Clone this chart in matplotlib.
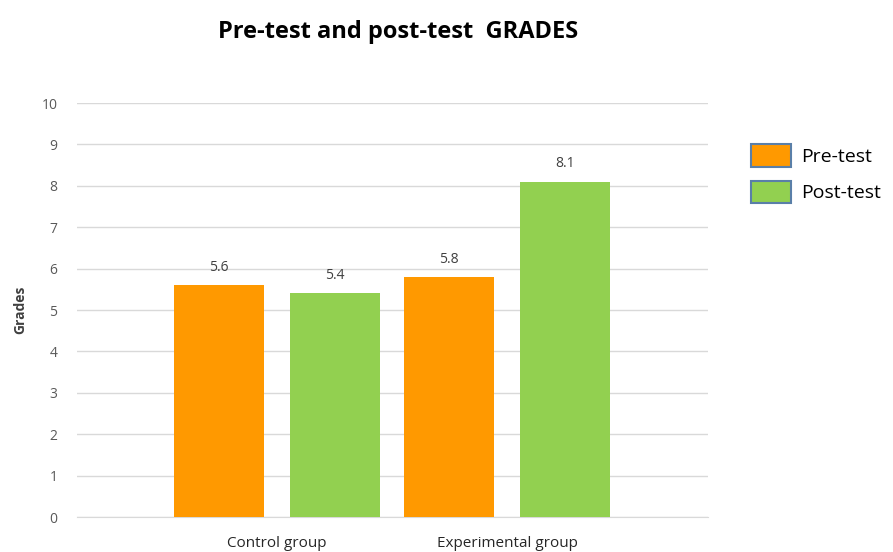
import numpy as np
import matplotlib.pyplot as plt
from matplotlib.patches import Patch

groups = ["Control group", "Experimental group"]
pre_test = [5.6, 5.8]
post_test = [5.4, 8.1]
series_names = ["Pre-test", "Post-test"]
y_ticks = list(range(0, 11))

plt.rcParams['font.family'] = ['Open Sans', 'DejaVu Sans']

fig = plt.figure(figsize=(8.93, 5.52), dpi=100)
ax = fig.add_axes([0.0862, 0.0634, 0.7066, 0.75])

x = np.arange(len(groups))
w = 0.39
off = 0.252
orange = '#FF9900'
green = '#92D050'

b1 = ax.bar(x - off, pre_test, w, color=orange, zorder=3)
b2 = ax.bar(x + off, post_test, w, color=green, zorder=3)

for bars, vals in [(b1, pre_test), (b2, post_test)]:
    for bar, v in zip(bars, vals):
        ax.text(bar.get_x() + bar.get_width() / 2, v + 0.25, f"{v}",
                ha='center', va='bottom', fontsize=10, color='#404040')

ax.set_xlim(-0.87, 1.874)
ax.set_ylim(0, 10)
ax.set_yticks(y_ticks)
ax.set_xticks(x)
ax.set_xticklabels(groups)
ax.grid(axis='y', color='#D9D9D9', linewidth=1, zorder=0)
for s in ['top', 'right', 'left']:
    ax.spines[s].set_visible(False)
ax.spines['bottom'].set_color('#D9D9D9')
ax.tick_params(axis='both', length=0, labelsize=10, colors='#595959')
ax.tick_params(axis='x', pad=14, labelsize=11, labelcolor='#262626')
ax.tick_params(axis='y', pad=14)

ax.set_ylabel("Grades", fontsize=10, fontweight='bold', color='#404040', labelpad=10)

fig.text(0.446, 0.942, "Pre-test and post-test  GRADES", ha='center', va='center',
         fontsize=17, fontweight='bold', color='black')

handles = [Patch(facecolor=orange, edgecolor='#5A7FA8', linewidth=1.5),
           Patch(facecolor=green, edgecolor='#5A7FA8', linewidth=1.5)]
fig.legend(handles, series_names, loc='upper left', bbox_to_anchor=(0.821, 0.77),
           frameon=False, fontsize=14, handlelength=2.1, handleheight=1.4,
           handletextpad=0.5, labelspacing=0.7)

fig.savefig("out.png", dpi=100)
